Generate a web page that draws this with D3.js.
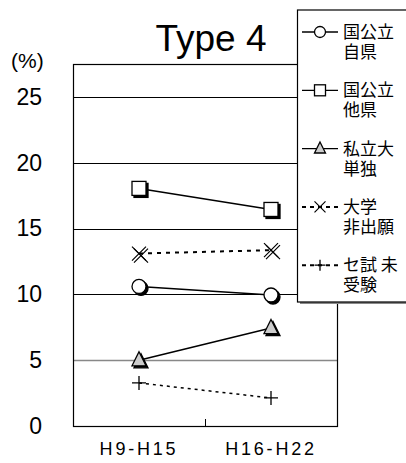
<!DOCTYPE html>
<html><head><meta charset="utf-8">
<script src="https://cdn.jsdelivr.net/npm/d3@7/dist/d3.min.js"></script>
<style>body{margin:0;background:#fff}svg{display:block}</style>
</head><body>
<svg id="c" width="406" height="463"></svg>
<script>
const categories = ["H9-H15", "H16-H22"];
const seriesNames = [["国公立","自県"],["国公立","他県"],["私立大","単独"],["大学","非出願"],["セ試 未","受験"]];
const seriesMarkers = ["circle","square","triangle","cross","plus"];
const seriesDashed = [false,false,false,true,true];
const valsJikenKokko = [10.6, 9.95];
const valsTakenKokko = [18.05, 16.45];
const valsShiritsu = [5.0, 7.45];
const valsHishutsugan = [13.1, 13.36];
const valsCenterMijuken = [3.27, 2.13];
const seriesValues = [valsJikenKokko, valsTakenKokko, valsShiritsu, valsHishutsugan, valsCenterMijuken];
const yTicks = [0,5,10,15,20,25];

const svg = d3.select("#c");
const L=73, R=337, T=64, B=426;
const x = d3.scaleBand().domain(categories).range([L,R]);
const y = d3.scaleLinear().domain([0,27.5]).range([B,T]);
const cx = d => x(d)+x.bandwidth()/2;

// gridlines
svg.append("g").selectAll("line").data(yTicks.filter(t=>t>0)).join("line")
  .attr("x1",L).attr("x2",R).attr("y1",d=>Math.round(y(d))+0.5).attr("y2",d=>Math.round(y(d))+0.5)
  .attr("stroke",d=>d===5?"#888":"#000").attr("stroke-width",d=>d===5?1.5:1);
// frame
svg.append("rect").attr("x",L+0.5).attr("y",T+0.5).attr("width",R-L).attr("height",B-T)
  .attr("fill","none").attr("stroke","#000").attr("stroke-width",1.2);
// y axis labels
const yAxis = d3.axisLeft(y).tickValues(yTicks).tickSize(0).tickPadding(31);
const ya = svg.append("g").attr("transform",`translate(${L},0)`).call(yAxis);
ya.select(".domain").remove();
ya.selectAll("text").attr("font-family","Liberation Sans, Arial").attr("font-size",23).attr("fill","#000");
// x axis middle tick
svg.append("line").attr("x1",x(categories[1])+0.5).attr("x2",x(categories[1])+0.5).attr("y1",B).attr("y2",B-7).attr("stroke","#000");
const xa = svg.append("g").attr("transform",`translate(0,${B})`).call(d3.axisBottom(x).tickSize(0).tickPadding(16));
xa.select(".domain").remove();
xa.selectAll("text").attr("font-family","Liberation Sans, Arial").attr("font-size",18).attr("letter-spacing",2.8).attr("fill","#000");

svg.append("text").attr("x",11).attr("y",68).text("(%)").attr("font-family","Liberation Sans, Arial").attr("font-size",21);
svg.append("text").attr("x",211).attr("y",51).attr("text-anchor","middle").text("Type 4")
  .attr("font-family","Liberation Sans, Arial").attr("font-size",37);

function marker(g, type, px, py, s, shadow){
  const fill = type==="triangle" ? "#ccc" : "#fff";
  const draw = (gg, dx, dy, col, fl) => {
    if(type==="circle") gg.append("circle").attr("cx",px+dx).attr("cy",py+dy).attr("r",s/2).attr("fill",fl).attr("stroke",col).attr("stroke-width",1.3);
    else if(type==="square") gg.append("rect").attr("x",px-s/2+dx).attr("y",py-s/2+dy).attr("width",s).attr("height",s).attr("fill",fl).attr("stroke",col).attr("stroke-width",1.3);
    else if(type==="triangle") gg.append("path").attr("d",`M${px+dx},${py-s*0.6+dy}L${px+s/2+dx},${py+s*0.4+dy}L${px-s/2+dx},${py+s*0.4+dy}Z`).attr("fill",fl).attr("stroke",col).attr("stroke-width",1.3);
    else if(type==="cross") gg.append("path").attr("d",`M${px-s/2+dx},${py-s/2+dy}L${px+s/2+dx},${py+s/2+dy}M${px+s/2+dx},${py-s/2+dy}L${px-s/2+dx},${py+s/2+dy}`).attr("stroke",col).attr("stroke-width",1.2);
    else gg.append("path").attr("d",`M${px-s/2+dx},${py+dy}L${px+s/2+dx},${py+dy}M${px+dx},${py-s/2+dy}L${px+dx},${py+s/2+dy}`).attr("stroke",col).attr("stroke-width",1.3);
  };
  if(shadow) draw(g, 2, 2, "#000", "#000");
  draw(g, 0, 0, "#000", fill);
}

// series
seriesValues.forEach((vals,i)=>{
  const g = svg.append("g");
  const line = d3.line().x((d,j)=>cx(categories[j])).y(d=>y(d));
  g.append("path").attr("d",line(vals)).attr("fill","none").attr("stroke","#000")
    .attr("stroke-width",i===3?2:1.5)
    .attr("stroke-dasharray",i===3?"4,5":(i===4?"3,4":null));
  vals.forEach((v,j)=>marker(g, seriesMarkers[i], cx(categories[j]), y(v), 14, seriesMarkers[i]!=="plus"));
});

// legend
const lg = svg.append("g");
lg.append("rect").attr("x",300).attr("y",12).attr("width",120).attr("height",292).attr("fill","#888");
lg.append("rect").attr("x",297.5).attr("y",10).attr("width",120).attr("height",292).attr("fill","#fff").attr("stroke","#000").attr("stroke-width",1.2);
seriesNames.forEach((nm,i)=>{
  const yy = 32 + i*58.3;
  lg.append("line").attr("x1",302).attr("x2",338).attr("y1",yy).attr("y2",yy).attr("stroke","#000")
    .attr("stroke-width",seriesDashed[i]?2:1.3).attr("stroke-dasharray",seriesDashed[i]?"4,4":null);
  marker(lg, seriesMarkers[i], 320, yy, 11, false);
  const t = lg.append("text").attr("x",343).attr("y",yy+6)
    .attr("font-family","Noto Sans CJK JP").attr("font-size",17).attr("fill","#000");
  nm.forEach((s,k)=>t.append("tspan").attr("x",343).attr("dy",k===0?0:20).text(s));
});
</script>
</body></html>
